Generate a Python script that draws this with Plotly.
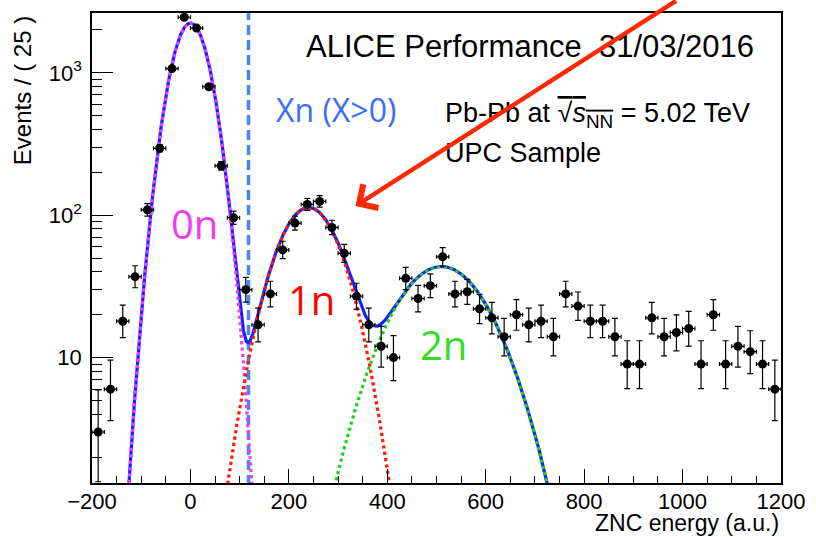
import numpy as np
import plotly.graph_objects as go

# ---------------- data ----------------
bin_width = 25
bin_centers = [-187.5, -162.5, -137.5, -112.5, -87.5, -62.5, -37.5, -12.5, 12.5, 37.5,
               62.5, 87.5, 112.5, 137.5, 162.5, 187.5, 212.5, 237.5, 262.5, 287.5,
               312.5, 337.5, 362.5, 387.5, 412.5, 437.5, 462.5, 487.5, 512.5, 537.5,
               562.5, 587.5, 612.5, 637.5, 662.5, 687.5, 712.5, 737.5, 762.5, 787.5,
               812.5, 837.5, 862.5, 887.5, 912.5, 937.5, 962.5, 987.5, 1012.5, 1037.5,
               1062.5, 1087.5, 1112.5, 1137.5, 1162.5, 1187.5]
counts = [3, 6, 18, 37, 109, 295, 1070, 2455, 2060, 798,
          222, 96, 30, 17, 28, 57, 88, 119, 125, 82,
          54, 27, 17, 12, 10, 36, 26, 32, 51, 28,
          29, 22, 19, 14, 20, 17, 18, 14, 28, 23,
          18, 18, 14, 9, 9, 19, 14, 15, 16, 9,
          20, 9, 12, 11, 9, 6]

# fit components (amplitude, mean, sigma)
fit_0n = (2235, 0.0, 32.5)
fit_1n = (113, 240.0, 55.0)
fit_2n = (43.6, 510.0, 81.5)
xn_threshold = 118

x_ticks = [-200, 0, 200, 400, 600, 800, 1000, 1200]
y_tickvals = [10, 100, 1000]
y_ticktext = ["10", "10<sup>2</sup>", "10<sup>3</sup>"]
y_minor = [2, 3, 4, 5, 6, 7, 8, 9, 20, 30, 40, 50, 60, 70, 80, 90,
           200, 300, 400, 500, 600, 700, 800, 900, 2000]

# ---------------- derived ----------------
N = np.array(counts, dtype=float)
err_hi = np.sqrt(N + 0.75) + 1.0
err_lo = np.sqrt(np.maximum(N - 0.25, 0))

xs = np.linspace(-200, 1200, 2801)


def gauss(p):
    a, m, s = p
    return a * np.exp(-0.5 * ((xs - m) / s) ** 2)


g0, g1, g2 = gauss(fit_0n), gauss(fit_1n), gauss(fit_2n)
tot = g0 + g1 + g2


def mask(y):
    out = y.astype(object)
    out[y < 0.3] = None
    return list(out)


MAG = "#f03cf0"
RED = "#ff1a00"
GREEN = "#22cc22"

fig = go.Figure()

# vertical threshold line
fig.add_trace(go.Scatter(x=[xn_threshold, xn_threshold], y=[1.0, 3000], mode="lines",
                         line=dict(color="#4a86f0", width=3.5, dash="10px,5px"),
                         hoverinfo="skip"))
# total fit
fig.add_trace(go.Scatter(x=xs, y=mask(tot), mode="lines",
                         line=dict(color="#1020ff", width=3.2), hoverinfo="skip"))
# components
fig.add_trace(go.Scatter(x=xs, y=mask(g0), mode="lines",
                         line=dict(color=MAG, width=3.2, dash="dot"), hoverinfo="skip"))
fig.add_trace(go.Scatter(x=xs, y=mask(g1), mode="lines",
                         line=dict(color=RED, width=3.2, dash="dot"), hoverinfo="skip"))
fig.add_trace(go.Scatter(x=xs, y=mask(g2), mode="lines",
                         line=dict(color=GREEN, width=3.2, dash="dot"), hoverinfo="skip"))

# data
fig.add_trace(go.Scatter(
    x=bin_centers, y=counts, mode="markers",
    marker=dict(color="black", size=9),
    error_y=dict(type="data", symmetric=False, array=list(err_hi), arrayminus=list(err_lo),
                 color="black", thickness=1.2, width=3),
    error_x=dict(type="constant", value=bin_width / 2, color="black", thickness=1.2, width=2),
    hoverinfo="skip"))

# ---------------- layout ----------------
L, R, T, B = 92, 28.3, 11, 54.3
W, H = 816, 537
pw, ph = W - L - R, H - T - B


def px2paper(px, py):
    return (px - L) / pw, (H - B - py) / ph


annotations = []


def add_text(text, px, py, size, color="black", family="Liberation Sans, Arial, sans-serif",
             xanchor="left", yanchor="middle", angle=0):
    xp, yp = px2paper(px, py)
    annotations.append(dict(text=text, x=xp, y=yp, xref="paper", yref="paper",
                            xanchor=xanchor, yanchor=yanchor, showarrow=False,
                            textangle=angle,
                            font=dict(size=size, color=color, family=family)))


add_text("ALICE Performance  31/03/2016", 306, 45, 31)
add_text("Pb-Pb at <span style='text-decoration:overline'>√<i>s</i><sub>NN</sub></span> = 5.02 TeV",
         446, 113, 27)
add_text("UPC Sample", 446, 152, 27)
add_text("Xn (X>0)", 276, 108, 32, color="#3a6ef5", family="Open Sans, sans-serif")
add_text("0n", 170, 222, 40, color=MAG, family="Open Sans, sans-serif")
add_text("1n", 288, 299, 40, color="#ff0000", family="Open Sans, sans-serif")
add_text("2n", 421, 344, 40, color="#33dd22", family="Open Sans, sans-serif")
add_text("Events / ( 25 )", 22, 12, 24, xanchor="center", yanchor="top", angle=-90)
add_text("ZNC energy (a.u.)", 788, 523, 23, xanchor="right")

# red arrow
annotations.append(dict(x=335.3, y=np.log10(116), xref="x", yref="y", text="",
                        showarrow=True, ax=322, ay=-216, axref="pixel", ayref="pixel",
                        arrowcolor="#ff2800", arrowwidth=4.5, arrowhead=4, arrowsize=1.2))

fig.update_layout(
    width=W, height=H,
    margin=dict(l=L, r=R, t=T, b=B),
    paper_bgcolor="white", plot_bgcolor="white",
    showlegend=False,
    annotations=annotations,
    font=dict(family="Liberation Sans, Arial, sans-serif", color="black"),
    xaxis=dict(range=[-200, 1200], tickvals=x_ticks, ticks="inside", ticklen=14,
               tickwidth=1.2, tickcolor="black",
               minor=dict(dtick=50, ticklen=7, tickwidth=1.2, tickcolor="black", ticks="inside"),
               showline=True, linecolor="black", linewidth=1.5, mirror=True,
               showgrid=False, zeroline=False,
               tickfont=dict(size=22), ticklabelstandoff=-2),
    yaxis=dict(type="log", range=[0.119, 3.42], tickvals=y_tickvals, ticktext=y_ticktext,
               ticks="inside", ticklen=21, tickwidth=1.2, tickcolor="black",
               minor=dict(tickvals=y_minor, ticklen=10, tickwidth=1.2, tickcolor="black",
                          ticks="inside"),
               showline=True, linecolor="black", linewidth=1.5, mirror=True,
               showgrid=False, zeroline=False,
               tickfont=dict(size=22), ticklabelstandoff=4),
)

fig.write_html("out.html")
